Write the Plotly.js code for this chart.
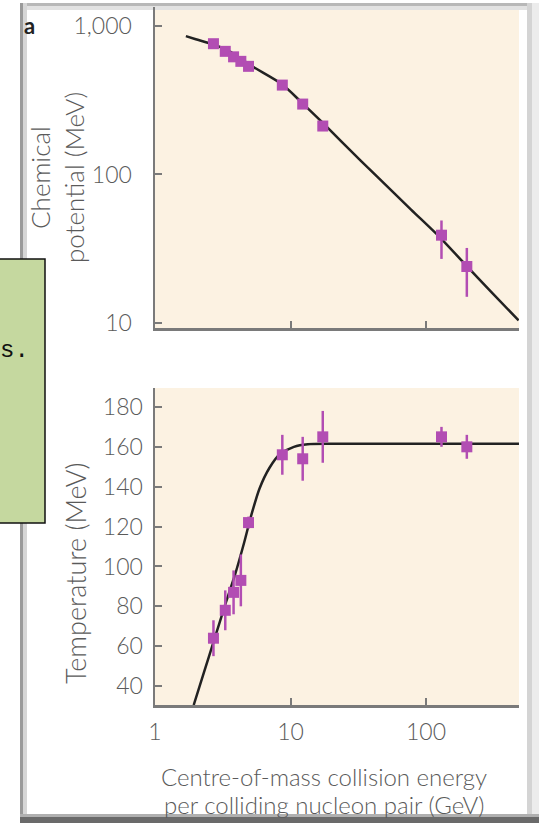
<!DOCTYPE html>
<html>
<head>
<meta charset="utf-8">
<script src="https://cdn.plot.ly/plotly-3.0.1.min.js"></script>
<style>html,body{margin:0;padding:0;background:#fff;}#chart{width:539px;height:823px;}</style>
</head>
<body>
<div id="chart"></div>
<script>
// ---- data ----
const energyPts = [2.7, 3.3, 3.8, 4.3, 4.9, 8.7, 12.3, 17.3, 130, 200];          // GeV
const muPts     = [760, 675, 620, 578, 535, 400, 298, 212, 39, 24];               // MeV
const muErrPlus = [25, 22, 20, 19, 18, 14, 12, 10, 10, 8];
const muErrMinus= [25, 22, 20, 19, 18, 14, 12, 10, 12, 9];
const tPts      = [64, 78, 87, 93, 122, 156, 154, 165, 165, 160];                 // MeV
const tErr      = [9, 10, 11, 13, 3, 10, 11, 13, 5, 6];

const muCurveX = [1.69, 2.0, 2.68, 3.5, 5.22, 8.65, 12.1, 17.1, 24.3, 43.4, 77.5, 127, 193, 300, 482];
const muCurveY = [855, 815, 752, 680, 535, 405, 305, 225, 163, 97, 58, 37.6, 25, 16.3, 10.4];

const tCurveX = [1.93, 2.3, 2.7, 3.3, 3.9, 4.55, 5.1, 5.9, 7.0, 8.4, 10.6, 13.4, 20, 50, 485];
const tCurveY = [30.5, 47, 62, 81, 96, 112, 125, 139, 149.5, 156.5, 160, 161.3, 161.5, 161.5, 161.5];

const topYTicks = [10, 100, 1000];
const topYText  = ['10', '100', '1,000'];
const botYTicks = [40, 60, 80, 100, 120, 140, 160, 180];
const xTicks    = [1, 10, 100];
const xText     = ['1', '10', '100'];

// ---- styles ----
const W = 539, H = 823;
const px = x => x / W, py = y => 1 - y / H;
const markerCol = '#b24db3';
const axisCol = '#7a7a7a';
const FAM = 'Lato, "Open Sans", sans-serif';
const tickFont = {family: FAM, size: 23, color: '#5a5a5a', weight: 300};
const titleFont = sz => ({family: FAM, size: sz, color: '#5a5a5a', weight: 300});

const traces = [
  {x: muCurveX, y: muCurveY, xaxis: 'x', yaxis: 'y', mode: 'lines',
   line: {color: '#222', width: 2.5, shape: 'spline', smoothing: 0.8}, hoverinfo: 'skip'},
  {x: energyPts, y: muPts, xaxis: 'x', yaxis: 'y', mode: 'markers',
   marker: {symbol: 'square', size: 11, color: markerCol},
   error_y: {type: 'data', symmetric: false, array: muErrPlus, arrayminus: muErrMinus,
             color: markerCol, thickness: 2.5, width: 0}},
  {x: tCurveX, y: tCurveY, xaxis: 'x2', yaxis: 'y2', mode: 'lines',
   line: {color: '#222', width: 2.5, shape: 'spline', smoothing: 0.6}, hoverinfo: 'skip'},
  {x: energyPts, y: tPts, xaxis: 'x2', yaxis: 'y2', mode: 'markers',
   marker: {symbol: 'square', size: 11, color: markerCol},
   error_y: {type: 'data', array: tErr, color: markerCol, thickness: 2.5, width: 0}}
];

const axCommon = {showline: true, linecolor: axisCol, linewidth: 2.5, showgrid: false, zeroline: false,
  ticks: 'inside', ticklen: 7, tickwidth: 2, tickcolor: axisCol, tickfont: tickFont, fixedrange: true, mirror: false};

const xDomain = [px(155), px(519)];
const layout = {
  width: W, height: H,
  margin: {l: 0, r: 0, t: 0, b: 0},
  paper_bgcolor: '#ffffff', plot_bgcolor: '#fcf2e2',
  showlegend: false,
  xaxis: Object.assign({}, axCommon, {domain: xDomain, type: 'log', range: [0, 2.686], anchor: 'y',
    tickvals: xTicks, ticktext: xText, showticklabels: false}),
  yaxis: Object.assign({}, axCommon, {domain: [py(328), py(7)], type: 'log', range: [0.966, 3.128], anchor: 'x',
    tickvals: topYTicks, ticktext: topYText, ticklabelstandoff: 16}),
  xaxis2: Object.assign({}, axCommon, {domain: xDomain, type: 'log', range: [0, 2.686], anchor: 'y2',
    tickvals: xTicks, ticktext: xText, ticklabelstandoff: 5}),
  yaxis2: Object.assign({}, axCommon, {domain: [py(705), py(388)], range: [30.5, 189.5], anchor: 'x2',
    tickvals: botYTicks, ticklabelstandoff: 5}),
  shapes: [
    // photo frame shadows
    {type: 'rect', xref: 'paper', yref: 'paper', x0: px(20), x1: px(532), y0: py(6), y1: py(3), fillcolor: '#b8b8b8', line: {width: 0}, layer: 'below'},
    {type: 'rect', xref: 'paper', yref: 'paper', x0: px(20), x1: px(532), y0: py(10), y1: py(6), fillcolor: '#e2e2e2', line: {width: 0}, layer: 'below'},
    {type: 'rect', xref: 'paper', yref: 'paper', x0: px(20), x1: px(23), y0: py(818), y1: py(3), fillcolor: '#9a9a9a', line: {width: 0}, layer: 'below'},
    {type: 'rect', xref: 'paper', yref: 'paper', x0: px(23), x1: px(27), y0: py(818), y1: py(3), fillcolor: '#d6d6d6', line: {width: 0}, layer: 'below'},
    {type: 'rect', xref: 'paper', yref: 'paper', x0: px(527), x1: px(532), y0: py(818), y1: py(3), fillcolor: '#d4d4d4', line: {width: 0}, layer: 'below'},
    {type: 'rect', xref: 'paper', yref: 'paper', x0: px(532), x1: px(539), y0: py(818), y1: py(3), fillcolor: '#ececec', line: {width: 0}, layer: 'below'},
    {type: 'rect', xref: 'paper', yref: 'paper', x0: px(20), x1: px(539), y0: py(823), y1: py(817), fillcolor: '#6a6a6a', line: {width: 0}, layer: 'below'},
    {type: 'rect', xref: 'paper', yref: 'paper', x0: px(20), x1: px(539), y0: py(817), y1: py(814), fillcolor: '#b0b0b0', line: {width: 0}, layer: 'below'},
    // green note box overlay
    {type: 'rect', xref: 'paper', yref: 'paper', x0: px(-3), x1: px(45), y0: py(523), y1: py(259),
     fillcolor: '#c5d89f', line: {color: '#111', width: 1.5}, layer: 'above'}
  ],
  annotations: [
    {xref: 'paper', yref: 'paper', x: px(29), y: py(26), xanchor: 'center', yanchor: 'middle', text: '<b>a</b>', showarrow: false,
     font: {family: FAM, size: 22, color: '#222'}},
    {xref: 'paper', yref: 'paper', x: px(-2), y: py(350), xanchor: 'left', yanchor: 'middle', text: 's.', showarrow: false,
     font: {family: '"Liberation Mono", "DejaVu Sans Mono", monospace', size: 24, color: '#111'}},
    {xref: 'paper', yref: 'paper', x: px(40), y: py(178), xanchor: 'center', yanchor: 'middle', text: 'Chemical', textangle: -90, showarrow: false,
     font: titleFont(26)},
    {xref: 'paper', yref: 'paper', x: px(74), y: py(178), xanchor: 'center', yanchor: 'middle', text: 'potential (MeV)', textangle: -90, showarrow: false,
     font: titleFont(26)},
    {xref: 'paper', yref: 'paper', x: px(75), y: py(573), xanchor: 'center', yanchor: 'middle', text: 'Temperature (MeV)', textangle: -90, showarrow: false,
     font: titleFont(27)},
    {xref: 'paper', yref: 'paper', x: px(324), y: py(776), xanchor: 'center', yanchor: 'middle', text: 'Centre-of-mass collision energy', showarrow: false,
     font: titleFont(24)},
    {xref: 'paper', yref: 'paper', x: px(324), y: py(804), xanchor: 'center', yanchor: 'middle', text: 'per colliding nucleon pair (GeV)', showarrow: false,
     font: titleFont(24)}
  ]
};

Plotly.newPlot('chart', traces, layout, {staticPlot: true, displayModeBar: false});
</script>
</body>
</html>
